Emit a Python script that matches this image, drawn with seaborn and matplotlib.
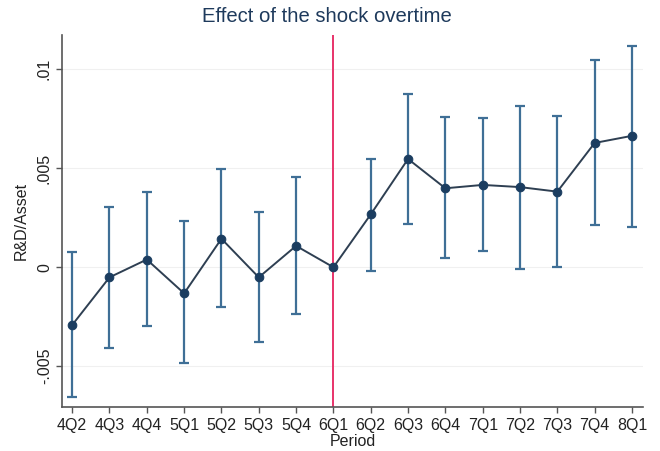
import numpy as np
import pandas as pd
import matplotlib
matplotlib.use("Agg")
import matplotlib.pyplot as plt
import seaborn as sns

periods = ["4Q2", "4Q3", "4Q4", "5Q1", "5Q2", "5Q3", "5Q4", "6Q1",
           "6Q2", "6Q3", "6Q4", "7Q1", "7Q2", "7Q3", "7Q4", "8Q1"]
coef = [-0.00292, -0.00051, 0.00039, -0.00132, 0.00144, -0.00051, 0.00108, 0.0,
        0.00267, 0.00547, 0.00399, 0.00416, 0.00405, 0.00382, 0.00628, 0.00664]
ci_upper = [0.00076, 0.00302, 0.00382, 0.00235, 0.00497, 0.00280, 0.00456, np.nan,
            0.00549, 0.00877, 0.00757, 0.00752, 0.00814, 0.00762, 0.01049, 0.01117]
ci_lower = [-0.00655, -0.00407, -0.00297, -0.00486, -0.00199, -0.00380, -0.00235, np.nan,
            -0.00017, 0.00216, 0.00047, 0.00083, -0.00010, 0.00000, 0.00215, 0.00203]
yticks = [-0.005, 0.0, 0.005, 0.01]
ytick_labels = ["-.005", "0", ".005", ".01"]
shock_period = "6Q1"

sns.set_theme(style="white")
plt.rcParams["font.family"] = ["Liberation Sans", "DejaVu Sans"]

df = pd.DataFrame({"period": periods, "x": np.arange(len(periods)), "coef": coef,
                   "lo": ci_lower, "hi": ci_upper})

fig = plt.figure(figsize=(6.6, 4.51), dpi=100)
ax = fig.add_axes([0.0935, 0.0976, 0.881, 0.8246])

# error bars
ax.vlines(df["x"], df["lo"], df["hi"], color="#3f6f96", lw=1.6, zorder=2)
ax.errorbar(df["x"], (df["lo"] + df["hi"]) / 2, yerr=(df["hi"] - df["lo"]) / 2,
            fmt="none", ecolor="#3f6f96", elinewidth=0, capsize=3.5, capthick=1.6, zorder=2)

# line + markers
sns.lineplot(data=df, x="x", y="coef", ax=ax, color="#2e3f52", lw=1.4,
             marker="o", markersize=6.2, markerfacecolor="#1b3d60",
             markeredgecolor="#1b3d60", zorder=3)

# shock line
ax.axvline(periods.index(shock_period), color="#e8336a", lw=1.4, zorder=1)

ax.set_xlim(-0.28, 15.3)
ax.set_ylim(-0.00706, 0.01173)
ax.set_yticks(yticks)
ax.set_yticklabels(ytick_labels, rotation=90, va="center")
ax.set_xticks(df["x"])
ax.set_xticklabels(periods)
ax.grid(axis="y", color="#f0f0f0", lw=0.8)
ax.set_axisbelow(True)

for s in ["top", "right"]:
    ax.spines[s].set_visible(False)
for s in ["left", "bottom"]:
    ax.spines[s].set_color("#555555")
    ax.spines[s].set_linewidth(1.2)

ax.tick_params(axis="both", which="major", length=4, width=1, color="#555555",
               labelsize=11.5, labelcolor="#222222", pad=3, direction="out",
               left=True, bottom=True)
ax.tick_params(axis="x", pad=4)
ax.set_xlabel("Period", fontsize=11.5, color="#222222", labelpad=1)
ax.set_ylabel("R&D/Asset", fontsize=11.5, color="#222222", labelpad=6)
fig.suptitle("Effect of the shock overtime", x=0.496, y=0.985, va="top",
             fontsize=14.6, color="#1e3a5c")

fig.savefig("out.png", dpi=100)
